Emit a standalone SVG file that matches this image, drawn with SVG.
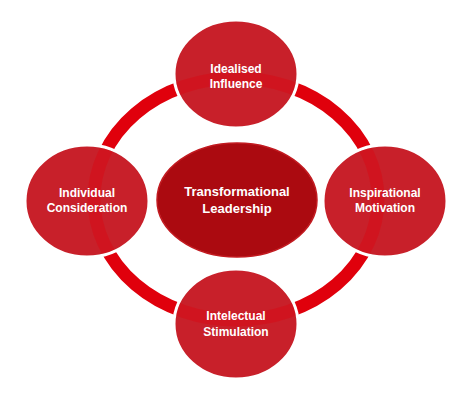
<svg xmlns="http://www.w3.org/2000/svg" width="474" height="403" viewBox="0 0 474 403">
<style>
.outer{fill:#c8202a;stroke:#ffffff;stroke-width:3}
.core{fill:#ab0a10;stroke:#c21a20;stroke-width:1.5}
.ring{fill:none;stroke:#e0000c;stroke-width:13}
.lbl{font-family:"Liberation Sans",Arial,sans-serif;font-weight:bold;font-size:12px;fill:#ffffff;text-anchor:middle}
.lblc{font-family:"Liberation Sans",Arial,sans-serif;font-weight:bold;font-size:13px;fill:#ffffff;text-anchor:middle}
</style>
<defs>
<clipPath id="inside">
<ellipse cx="236" cy="74" rx="60.5" ry="52.5"/>
<ellipse cx="87" cy="201" rx="60.5" ry="54.5"/>
<ellipse cx="385" cy="201" rx="60.5" ry="54.5"/>
<ellipse cx="236" cy="324" rx="60.5" ry="53.5"/>
</clipPath>
</defs>
<rect width="474" height="403" fill="#ffffff"/>
<g id="connectors">
<ellipse class="ring" cx="236" cy="199" rx="142" ry="121"/>
</g>
<g id="center">
<ellipse class="core" cx="237" cy="200" rx="80" ry="57"/>
<text class="lblc" x="237" y="196">Transformational</text>
<text class="lblc" x="237" y="213">Leadership</text>
</g>
<g id="top">
<ellipse class="outer" cx="236" cy="74" rx="62" ry="54"/>
</g>
<g id="left">
<ellipse class="outer" cx="87" cy="201" rx="62" ry="56"/>
</g>
<g id="right">
<ellipse class="outer" cx="385" cy="201" rx="62" ry="56"/>
</g>
<g id="bottom">
<ellipse class="outer" cx="236" cy="324" rx="62" ry="55"/>
</g>
<g id="ring-overlay" clip-path="url(#inside)">
<ellipse class="ring" cx="236" cy="199" rx="142" ry="121" stroke-opacity="0.35"/>
</g>
<g id="labels">
<text class="lbl" x="236" y="73">Idealised</text>
<text class="lbl" x="236" y="88">Influence</text>
<text class="lbl" x="87" y="197">Individual</text>
<text class="lbl" x="87" y="212">Consideration</text>
<text class="lbl" x="385" y="197">Inspirational</text>
<text class="lbl" x="385" y="212">Motivation</text>
<text class="lbl" x="236" y="320">Intelectual</text>
<text class="lbl" x="236" y="336">Stimulation</text>
</g>
</svg>
